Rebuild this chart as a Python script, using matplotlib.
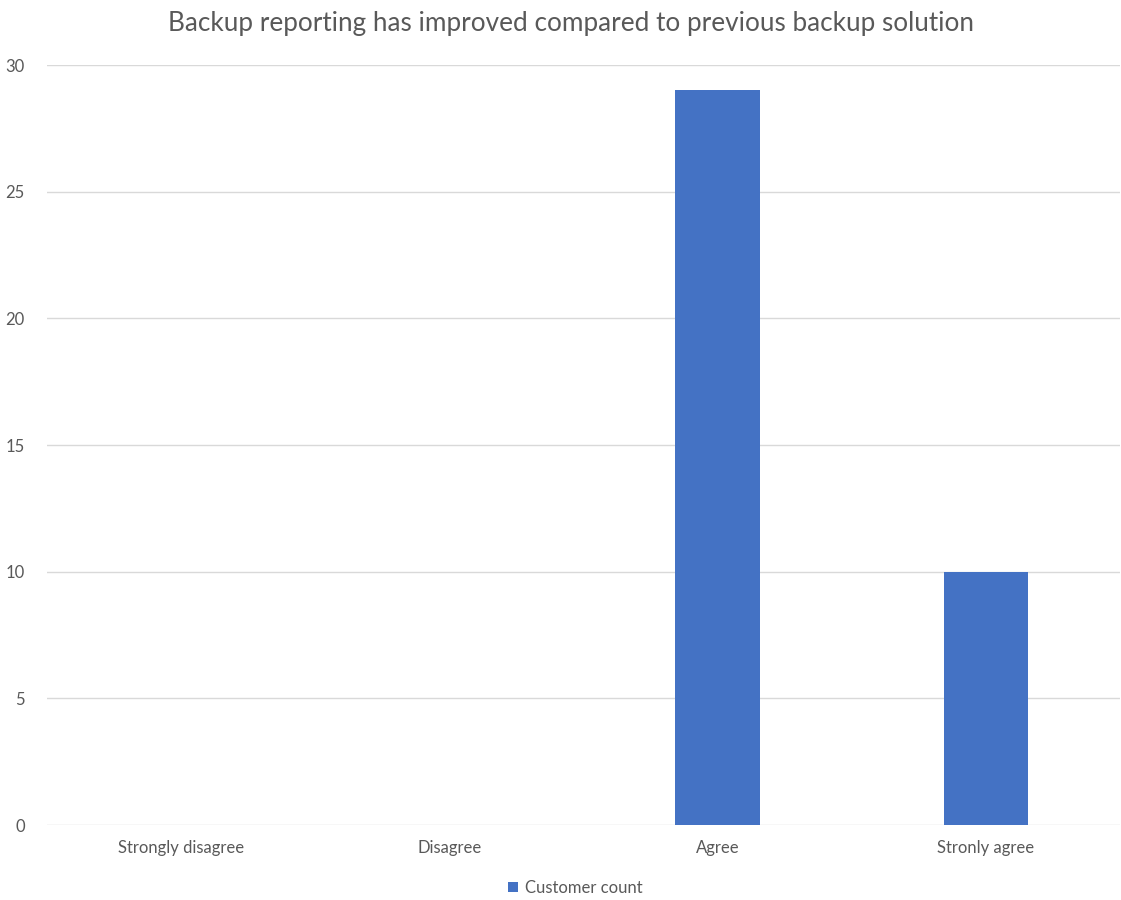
import numpy as np
import matplotlib.pyplot as plt

categories = ['Strongly disagree', 'Disagree', 'Agree', 'Stronly agree']
customer_count = [0, 0, 29, 10]

plt.rcParams['font.family'] = ['Lato', 'DejaVu Sans']

fig = plt.figure(figsize=(11.21, 9), dpi=100)
ax = fig.add_axes([47/1121, 75/900, 1073/1121, 760/900])

x = np.arange(len(categories))
ax.bar(x, customer_count, width=0.315, color='#4472C4', label='Customer count', zorder=3)

ax.set_xlim(-0.5, len(categories) - 0.5)
ax.set_ylim(0, 30)
ax.set_yticks(np.arange(0, 31, 5))
ax.set_xticks(x)
ax.set_xticklabels(categories)
ax.grid(axis='y', color='#D9D9D9', linewidth=1, zorder=0)
ax.tick_params(axis='both', length=0, labelsize=12, labelcolor='#595959')
ax.tick_params(axis='x', pad=11)
ax.tick_params(axis='y', pad=16)
for s in ax.spines.values():
    s.set_visible(False)

fig.text(571/1121, 1 - 24/900, 'Backup reporting has improved compared to previous backup solution',
         ha='center', va='center', fontsize=18.8, color='#595959')

fig.legend(loc='center', bbox_to_anchor=(575/1121, 1 - 888/900), frameon=False,
           fontsize=12, labelcolor='#595959', handlelength=0.6, handleheight=0.6,
           handletextpad=0.4)

fig.savefig('out.png', dpi=100)
